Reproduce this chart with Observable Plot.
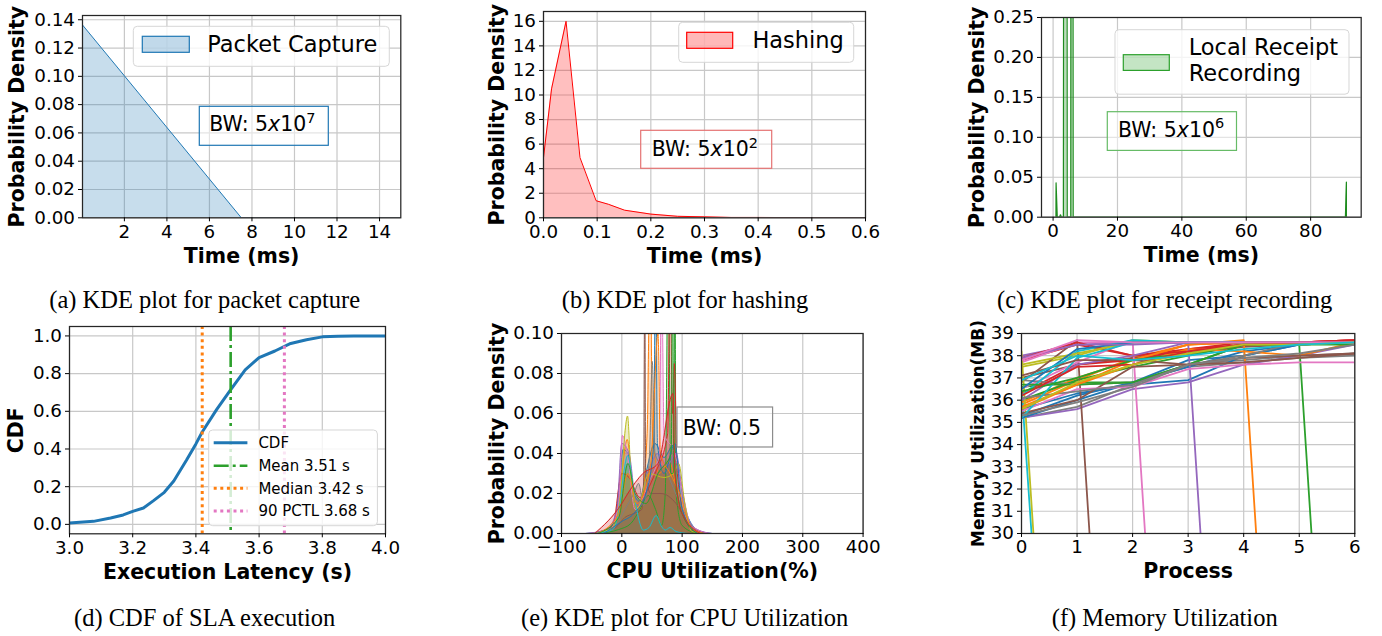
<!DOCTYPE html>
<html><head><meta charset="utf-8">
<script src="https://cdn.jsdelivr.net/npm/d3@7"></script>
<script src="https://cdn.jsdelivr.net/npm/@observablehq/plot@0.6"></script>
<style>
body{margin:0;background:#fff;}
#page{position:relative;width:1382px;height:636px;overflow:hidden;background:#fff;font-family:"DejaVu Sans",sans-serif;}
</style></head><body><div id="page"></div>
<script>
// ---------------- DATA ----------------
// (a) Packet capture KDE
const captureTime = [0.03, 7.5, 15];
const captureDensity = [0.1363, 0, 0];
// (b) Hashing KDE
const hashTime = [0, 0.015, 0.042, 0.068, 0.098, 0.121, 0.151, 0.2, 0.25, 0.3, 0.35, 0.4, 0.5, 0.6];
const hashDensity = [4.9, 10.5, 16.0, 4.9, 1.39, 1.1, 0.62, 0.3, 0.12, 0.08, 0.03, 0.03, 0.01, 0.0];
// (c) Local receipt recording KDE
const receiptTime = [0.9, 0.93, 1.3, 2.0, 2.3, 2.6, 3.2, 3.35, 4.25, 4.4, 5.5, 5.6, 6.1, 6.25, 90.8, 91.1, 91.12];
const receiptDensity = [0, 0.043, 0, 0, 0.003, 0, 0, 0.9, 0.9, 0, 0, 0.9, 0.9, 0, 0, 0.044, 0];
// (d) CDF of SLA execution latency
const latency = [3.0, 3.076, 3.13, 3.17, 3.2, 3.234, 3.266, 3.3, 3.33, 3.37, 3.4, 3.42, 3.466, 3.508, 3.556, 3.6, 3.65, 3.7, 3.75, 3.8, 3.85, 3.9, 4.0];
const cdf = [0.007, 0.016, 0.034, 0.05, 0.069, 0.087, 0.126, 0.17, 0.23, 0.34, 0.427, 0.49, 0.61, 0.71, 0.82, 0.885, 0.92, 0.96, 0.98, 0.995, 0.998, 1.0, 1.0];
const statNames = ["Mean", "Median", "90 PCTL"];
const statValues = [3.51, 3.42, 3.68];
// (e) CPU utilisation KDEs, one [utilisation, density] list per process
const cpuSeries = [
  [[-60,0],[-30,0.001],[-12,0.006],[-4,0.025],[2,0.042],[10,0.04],[20,0.02],[30,0.016],[40,0.03],[55,0.045],[70,0.038],[85,0.044],[95,0.03],[110,0.008],[130,0.001],[150,0]],
  [[-50,0],[-20,0.002],[-6,0.012],[2,0.035],[9,0.047],[18,0.022],[30,0.012],[42,0.05],[47,0.14],[51,0.05],[62,0.03],[78,0.036],[98,0.012],[120,0.002],[140,0]],
  [[-40,0],[-5,0.002],[15,0.005],[30,0.012],[44,0.019],[56,0.012],[66,0.004],[72,0.02],[77,0.14],[81,0.03],[86,0.03],[88,0.14],[90,0.02],[100,0.004],[125,0]],
  [[-50,0],[-15,0.004],[0,0.03],[12,0.028],[30,0.018],[55,0.03],[76,0.05],[80,0.13],[84,0.06],[87,0.085],[92,0.03],[108,0.006],[140,0]],
  [[-60,0],[-25,0.002],[-8,0.012],[0,0.045],[12,0.04],[25,0.014],[45,0.032],[60,0.04],[75,0.034],[90,0.04],[104,0.012],[125,0.002],[150,0]],
  [[-40,0],[-10,0.003],[5,0.008],[20,0.01],[33,0.012],[36.5,0.03],[38,0.14],[39.5,0.03],[48,0.02],[65,0.02],[90,0.015],[115,0.002],[130,0]],
  [[-55,0],[-20,0.002],[-5,0.015],[1,0.049],[9,0.04],[22,0.012],[45,0.026],[62,0.04],[66,0.13],[70,0.05],[88,0.04],[100,0.022],[115,0.004],[145,0]],
  [[-50,0],[-10,0.004],[5,0.012],[20,0.02],[28,0.025],[36,0.014],[46,0.04],[50.5,0.086],[55,0.04],[75,0.03],[95,0.016],[125,0.001],[140,0]],
  [[-45,0],[-15,0.003],[-2,0.02],[5,0.05],[9.5,0.0587],[15,0.03],[25,0.012],[45,0.03],[70,0.028],[86,0.03],[94,0.035],[105,0.014],[116,0.001],[135,0]],
  [[-45,0],[-15,0.002],[-3,0.015],[3,0.03],[10,0.039],[20,0.02],[30,0.005],[35.5,0.0017],[45,0.003],[57,0.009],[65,0.004],[72,0.0017],[80,0.003],[90,0.001],[110,0]],
  [[-30,0],[0,0.006],[20,0.01],[40,0.02],[53,0.045],[56,0.14],[59,0.045],[70,0.03],[88,0.045],[100,0.012],[125,0]],
  [[-40,0],[-5,0.01],[10,0.03],[25,0.015],[48,0.035],[60,0.1],[64,0.04],[80,0.03],[96,0.02],[115,0.003],[135,0]],
  [[-40,0],[-5,0.008],[10,0.035],[22,0.02],[40,0.015],[60,0.03],[82,0.04],[84,0.14],[86,0.04],[100,0.01],[125,0]],
  [[-45,0],[0,0.015],[10,0.02],[35,0.03],[60,0.035],[85,0.07],[88,0.03],[100,0.01],[130,0]]
];
// (f) Memory utilisation (MB) per process step, one list per run
const processIndex = [0, 1, 2, 3, 4, 5, 6];
const memoryMB = [
  [35.3, 36.2, 36.8, 37.8, 38.0, 38.5, 38.6],
  [35.8, 36.9, 37.9, 38.5, 38.6, 38.6, 38.7],
  [36.6, 36.8, 36.8, 37.6, 38.5, 38.6, 38.6],
  [37.8, 38.5, 38.0, 38.3, 38.5, 38.6, 38.7],
  [38.0, 38.5, 38.6, 38.6, 38.6, 38.6, 38.6],
  [37.0, 37.6, 37.9, 38.1, 38.4, 38.5, 38.6],
  [37.7, 38.6, 38.6, 38.6, 38.6, 38.6, 38.7],
  [35.2, 35.7, 36.7, 37.6, 37.8, 38.0, 38.1],
  [37.5, 38.0, 38.7, 38.6, 38.6, 38.6, 38.6],
  [36.6, 0],
  [35.6, 36.3, 36.7, 36.9, 38.0, 38.5, 38.6],
  [35.9, 37.0, 37.8, 38.5, 38.7, 0],
  [36.0, 36.9, 37.5, 38.0, 38.5, 38.5, 0],
  [36.3, 37.6, 37.8, 38.3, 38.6, 38.6, 38.6],
  [35.2, 35.6, 36.5, 36.8, 37.6, 38.0, 38.5],
  [36.8, 38.7, 0],
  [36.5, 37.7, 38.7, 0],
  [36.9, 36.7, 36.8, 37.5, 37.7, 37.9, 38.0],
  [38.2, 0],
  [36.2, 38.2, 38.7, 38.6, 38.6, 38.6, 38.6],
  [35.2, 36.0, 36.8, 37.5, 38.2, 38.5, 38.6],
  [35.7, 36.7, 37.6, 38.3, 38.2, 38.0, 38.6],
  [36.7, 36.7, 36.8, 37.6, 38.5, 38.6, 38.6],
  [37.9, 38.6, 38.0, 38.2, 38.5, 38.6, 38.7],
  [36.0, 37.6, 38.0, 38.6, 0],
  [35.4, 36.0, 37.5, 37.6, 37.7, 37.9, 38.1],
  [35.5, 36.5, 36.6, 37.4, 37.6, 37.7, 37.7],
  [36.1, 36.4, 36.7, 37.6, 38.0, 38.6, 38.6],
  [37.6, 38.1, 38.6, 38.6, 38.6, 38.6, 38.6],
  [35.2, 37.9, 38.6, 38.6, 38.6, 38.6, 38.6],
  [36.5, 38.3, 38.6, 38.6, 38.6, 38.6, 38.6],
  [35.6, 36.7, 37.8, 38.5, 38.6, 38.6, 38.6],
  [36.4, 37.0, 37.8, 38.1, 38.5, 38.5, 38.5],
  [36.2, 37.5, 37.6, 38.2, 38.5, 38.6, 38.7],
  [37.9, 38.5, 38.5, 38.6, 38.6, 38.6, 38.6],
  [37.1, 37.8, 37.8, 37.6, 37.9, 38.0, 38.1],
  [37.8, 38.7, 38.6, 38.6, 38.6, 38.6, 38.6],
  [35.3, 35.9, 36.6, 37.6, 37.9, 38.1, 38.5],
  [35.6, 36.8, 37.6, 38.1, 38.5, 38.5, 38.6],
  [36.9, 38.0, 37.8, 38.0, 38.3, 38.5, 38.6]
];
// tick values
const ticksA = {x: [2,4,6,8,10,12,14], y: [0,0.02,0.04,0.06,0.08,0.10,0.12,0.14]};
const ticksB = {x: [0,0.1,0.2,0.3,0.4,0.5,0.6], y: [0,2,4,6,8,10,12,14,16]};
const ticksC = {x: [0,20,40,60,80], y: [0,0.05,0.10,0.15,0.20,0.25]};
const ticksD = {x: [3.0,3.2,3.4,3.6,3.8,4.0], y: [0,0.2,0.4,0.6,0.8,1.0]};
const ticksE = {x: [-100,0,100,200,300,400], y: [0,0.02,0.04,0.06,0.08,0.10]};
const ticksF = {x: [0,1,2,3,4,5,6], y: [30,31,32,33,34,35,36,37,38,39]};
const captions = ["(a) KDE plot for packet capture","(b) KDE plot for hashing","(c) KDE plot for receipt recording",
  "(d) CDF of SLA execution","(e) KDE plot for CPU Utilization","(f) Memory Utilization"];

// ---------------- STYLE ----------------
const tab10 = ["#1f77b4","#ff7f0e","#2ca02c","#d62728","#9467bd","#8c564b","#e377c2","#7f7f7f","#bcbd22","#17becf"];
const page = document.getElementById("page");
const M = {l: 85, r: 15, t: 15, b: 60};
const TICK_FS = 18.3, LABEL_FS = 20.5;

function panel(cfg) {
  const [L, T, R, B] = cfg.frame;
  const gridStyle = {stroke: "#c8c8c8", strokeOpacity: 1, strokeWidth: 1.2};
  const svg = Plot.plot({
    width: R - L + M.l + M.r,
    height: B - T + M.t + M.b,
    marginLeft: M.l, marginRight: M.r, marginTop: M.t, marginBottom: M.b,
    x: {type: "linear", domain: cfg.xDomain},
    y: {type: "linear", domain: cfg.yDomain},
    style: {fontFamily: "'DejaVu Sans', sans-serif", fontSize: TICK_FS + "px", color: "#000", background: "none", overflow: "visible"},
    marks: [
      Plot.gridX({ticks: cfg.ticks.x, ...gridStyle}),
      Plot.gridY({ticks: cfg.ticks.y, ...gridStyle}),
      ...cfg.marks,
      Plot.frame({stroke: "#262626", strokeWidth: 1.25}),
      Plot.axisX({ticks: cfg.ticks.x, tickFormat: cfg.xFormat, tickSize: 4, tickPadding: 3, label: null, fontSize: TICK_FS, stroke: "#000"}),
      Plot.axisY({ticks: cfg.ticks.y, tickFormat: cfg.yFormat, tickSize: 4, tickPadding: 3.5, label: null, fontSize: TICK_FS, stroke: "#000"}),
      Plot.text([cfg.xLabel], {text: d => d, frameAnchor: "bottom", textAnchor: "middle", dy: 38.4, fontWeight: "bold", fontSize: LABEL_FS, lineAnchor: "middle", fill: "#000"}),
      Plot.text([cfg.yLabel], {text: d => d, frameAnchor: "left", textAnchor: "middle", dx: -cfg.yLabelOffset, rotate: -90, fontWeight: "bold", fontSize: cfg.yLabelSize || LABEL_FS, lineAnchor: "middle", fill: "#000"})
    ]
  });
  svg.style.position = "absolute";
  svg.style.left = (L - M.l) + "px";
  svg.style.top = (T - M.t) + "px";
  svg.style.maxWidth = "none";
  const g = d3.select(svg).append("g").attr("text-anchor", "start")
    .attr("transform", `translate(${-(L - M.l)},${-(T - M.t)})`);
  if (cfg.annotate) cfg.annotate(g);
  page.appendChild(svg);
}

function legendFrame(g, x1, y1, x2, y2) {
  g.append("rect").attr("x", x1).attr("y", y1).attr("width", x2 - x1).attr("height", y2 - y1)
    .attr("rx", 4).attr("fill", "#fff").attr("fill-opacity", 0.8).attr("stroke", "#d6d6d6").attr("stroke-width", 1);
}
function patch(g, x1, y1, x2, y2, color) {
  g.append("rect").attr("x", x1).attr("y", y1).attr("width", x2 - x1).attr("height", y2 - y1)
    .attr("fill", color).attr("fill-opacity", 0.28).attr("stroke", color).attr("stroke-width", 1.2);
}
function label(g, x, y, str, fs) {
  g.append("text").attr("x", x).attr("y", y).attr("font-size", fs).attr("text-anchor", "start").attr("fill", "#000").text(str);
}
function bwBox(g, x1, y1, x2, y2, color, tx, ty, base, exp) {
  g.append("rect").attr("x", x1).attr("y", y1).attr("width", x2 - x1).attr("height", y2 - y1)
    .attr("fill", "#fff").attr("fill-opacity", 0.5).attr("stroke", color).attr("stroke-width", 1.2);
  const t = g.append("text").attr("x", tx).attr("y", ty).attr("font-size", 20.5).attr("text-anchor", "start").attr("fill", "#000");
  if (exp == null) { t.text("BW: " + base); return; }
  t.append("tspan").text("BW: " + base);
  t.append("tspan").attr("font-style", "italic").text("x");
  t.append("tspan").text("10");
  t.append("tspan").attr("font-size", 14.5).attr("dy", -8.5).text(exp);
}

const fmt = s => d3.format(s);

// (a)
const captureRows = captureTime.map((t, i) => ({t, d: captureDensity[i]}));
panel({
  frame: [81.7, 14.7, 400, 217], xDomain: [0.03, 15], yDomain: [0, 0.143], ticks: ticksA,
  xFormat: fmt("d"), yFormat: fmt(".2f"), xLabel: "Time (ms)", yLabel: "Probability Density", yLabelOffset: 65,
  marks: [
    Plot.areaY(captureRows, {x: "t", y1: 0, y2: "d", fill: tab10[0], fillOpacity: 0.25, clip: true}),
    Plot.line(captureRows, {x: "t", y: "d", stroke: tab10[0], strokeWidth: 1, clip: true})
  ],
  annotate: g => {
    legendFrame(g, 133, 26, 389, 66); patch(g, 142, 36, 189, 52, tab10[0]); label(g, 207, 52, "Packet Capture", 22.5);
    bwBox(g, 199, 106, 328, 145, tab10[0], 209, 131, "5", "7");
  }
});

// (b)
const hashRows = hashTime.map((t, i) => ({t, d: hashDensity[i]}));
panel({
  frame: [543.3, 10.7, 865.3, 217], xDomain: [0, 0.6], yDomain: [0, 16.8], ticks: ticksB,
  xFormat: fmt(".1f"), yFormat: fmt("d"), xLabel: "Time (ms)", yLabel: "Probability Density", yLabelOffset: 46,
  marks: [
    Plot.areaY(hashRows, {x: "t", y1: 0, y2: "d", fill: "#ff0000", fillOpacity: 0.25, clip: true}),
    Plot.line(hashRows, {x: "t", y: "d", stroke: "#ff0000", strokeWidth: 1, clip: true})
  ],
  annotate: g => {
    legendFrame(g, 679, 22, 854, 62); patch(g, 687, 32, 733, 48, "#ff0000"); label(g, 752.7, 48, "Hashing", 22.5);
    bwBox(g, 641, 130, 772, 168, "#e57373", 652, 156, "5", "2");
  }
});

// (c)
const receiptRows = receiptTime.map((t, i) => ({t, d: receiptDensity[i]}));
const green = "#1e8c1e";
panel({
  frame: [1041, 17.3, 1360.7, 217], xDomain: [-3.6, 95.7], yDomain: [0, 0.25], ticks: ticksC,
  xFormat: fmt("d"), yFormat: fmt(".2f"), xLabel: "Time (ms)", yLabel: "Probability Density", yLabelOffset: 64.3,
  marks: [
    Plot.areaY(receiptRows, {x: "t", y1: 0, y2: "d", fill: green, fillOpacity: 0.3, clip: true}),
    Plot.line(receiptRows, {x: "t", y: "d", stroke: green, strokeWidth: 1.2, clip: true})
  ],
  annotate: g => {
    legendFrame(g, 1115, 30, 1349, 94.5); patch(g, 1123.3, 55, 1169.3, 70.7, "#2ca02c");
    label(g, 1188.7, 55.4, "Local Receipt", 22.5); label(g, 1188.7, 81.4, "Recording", 22.5);
    bwBox(g, 1107.3, 112, 1236.5, 150.7, "#66bb66", 1118, 137.3, "5", "6");
  }
});

// (d)
const cdfRows = latency.map((x, i) => ({x, c: cdf[i]}));
const statStyles = [
  {stroke: tab10[2], dash: "15,4,3,4", w: 2.6},
  {stroke: tab10[1], dash: "3,3.6", w: 3},
  {stroke: tab10[6], dash: "3,3.6", w: 3}
];
panel({
  frame: [69.3, 326, 385.3, 533.3], xDomain: [3, 4], yDomain: [-0.05, 1.05], ticks: ticksD,
  xFormat: fmt(".1f"), yFormat: fmt(".1f"), xLabel: "Execution Latency (s)", yLabel: "CDF", yLabelOffset: 52.6,
  marks: [
    Plot.line(cdfRows, {x: "x", y: "c", stroke: tab10[0], strokeWidth: 3, clip: true}),
    ...statValues.map((v, i) => Plot.ruleX([v], {x: d => d, stroke: statStyles[i].stroke, strokeWidth: statStyles[i].w, strokeDasharray: statStyles[i].dash}))
  ],
  annotate: g => {
    legendFrame(g, 209, 430, 377.7, 525.7);
    const rowsY = [442.7, 465.7, 488.3, 511];
    g.append("line").attr("x1", 214).attr("x2", 247.7).attr("y1", rowsY[0]).attr("y2", rowsY[0]).attr("stroke", tab10[0]).attr("stroke-width", 3);
    label(g, 258.7, rowsY[0] + 5.5, "CDF", 15);
    statValues.forEach((v, i) => {
      const s = statStyles[i];
      g.append("line").attr("x1", 214).attr("x2", 247.7).attr("y1", rowsY[i + 1]).attr("y2", rowsY[i + 1])
        .attr("stroke", s.stroke).attr("stroke-width", s.w).attr("stroke-dasharray", s.dash);
      label(g, 258.7, rowsY[i + 1] + 5.5, `${statNames[i]} ${v.toFixed(2)} s`, 15);
    });
  }
});

// (e)
const cpuRows = cpuSeries.flatMap((pts, s) => pts.map(([u, d]) => ({s, u, d, color: tab10[s % 10]})));
panel({
  frame: [560.7, 333.3, 862.3, 533.3], xDomain: [-100, 400], yDomain: [0, 0.1], ticks: ticksE,
  xFormat: fmt("d"), yFormat: fmt(".2f"), xLabel: "CPU Utilization(%)", yLabel: "Probability Density", yLabelOffset: 64,
  marks: [
    Plot.areaY(cpuRows, {x: "u", y1: 0, y2: "d", z: "s", fill: "color", fillOpacity: 0.25, curve: "monotone-x", clip: true}),
    Plot.line(cpuRows, {x: "u", y: "d", z: "s", stroke: "color", strokeWidth: 1, curve: "monotone-x", clip: true})
  ],
  annotate: g => { bwBox(g, 676.7, 407.3, 772.3, 447.3, "#8c8c8c", 682.5, 435, "0.5", null); }
});

// (f)
const memRows = memoryMB.flatMap((vals, s) => vals.map((v, i) => ({s, p: processIndex[i], m: v, color: tab10[s % 10]})));
panel({
  frame: [1021, 333.3, 1354.3, 533.3], xDomain: [0, 6], yDomain: [30, 39], ticks: ticksF,
  xFormat: fmt("d"), yFormat: fmt("d"), xLabel: "Process", yLabel: "Memory Utilization(MB)", yLabelOffset: 42.7, yLabelSize: 17,
  marks: [
    Plot.line(memRows, {x: "p", y: "m", z: "s", stroke: "color", strokeWidth: 1.8, clip: true})
  ]
});

// captions
const capPos = [[204.7, 308.3], [685, 308.3], [1164.7, 308.3], [204.7, 625.5], [684.7, 625.5], [1164.7, 625.5]];
const cap = d3.select(page).append("svg").attr("width", 1382).attr("height", 636)
  .style("position", "absolute").style("left", "0px").style("top", "0px").style("pointer-events", "none");
cap.selectAll("text").data(captions).join("text")
  .attr("x", (d, i) => capPos[i][0]).attr("y", (d, i) => capPos[i][1])
  .attr("text-anchor", "middle").attr("font-family", "'Liberation Serif', serif").attr("font-size", 24.5).attr("fill", "#000")
  .text(d => d);
</script></body></html>
